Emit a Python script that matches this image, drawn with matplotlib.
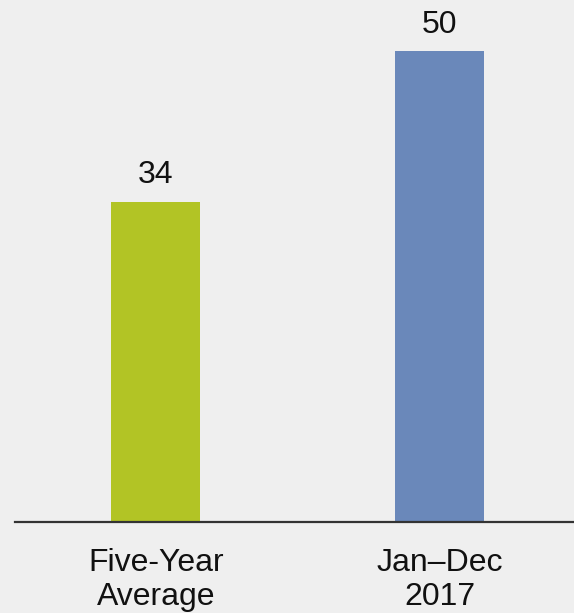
import matplotlib
matplotlib.use("Agg")
import matplotlib.pyplot as plt

categories = ["Five-Year\nAverage", "Jan\u2013Dec\n2017"]
values = [34, 50]
colors = ["#b2c425", "#6a88ba"]

bg = "#efefef"
plt.rcParams["font.family"] = ["Liberation Sans", "DejaVu Sans"]

fig = plt.figure(figsize=(5.74, 6.13), dpi=100, facecolor=bg)
ax = fig.add_axes([15 / 574, (613 - 521.7) / 613, 1 - 15 / 574, 521.7 / 613])
ax.set_facecolor(bg)

x = list(range(len(values)))
bars = ax.bar(x, values, width=0.314, color=colors, zorder=2)

for xi, v in zip(x, values):
    ax.annotate(f"{v}", (xi, v), xytext=(0, 13), textcoords="offset points",
                ha="center", va="baseline", fontsize=23, color="#111111")

ax.set_xlim(-0.497, 1.474)
ax.set_ylim(0, 55.4)
ax.set_xticks(x)
ax.set_xticklabels(categories, fontsize=23, color="#111111", linespacing=1.15)
ax.tick_params(axis="x", length=0, pad=19)
ax.set_yticks([])
for s in ["top", "right", "left"]:
    ax.spines[s].set_visible(False)
ax.spines["bottom"].set_linewidth(1.6)
ax.spines["bottom"].set_color("#333333")
ax.spines["bottom"].set_zorder(3)

fig.savefig("out.png", dpi=100, facecolor=bg)
